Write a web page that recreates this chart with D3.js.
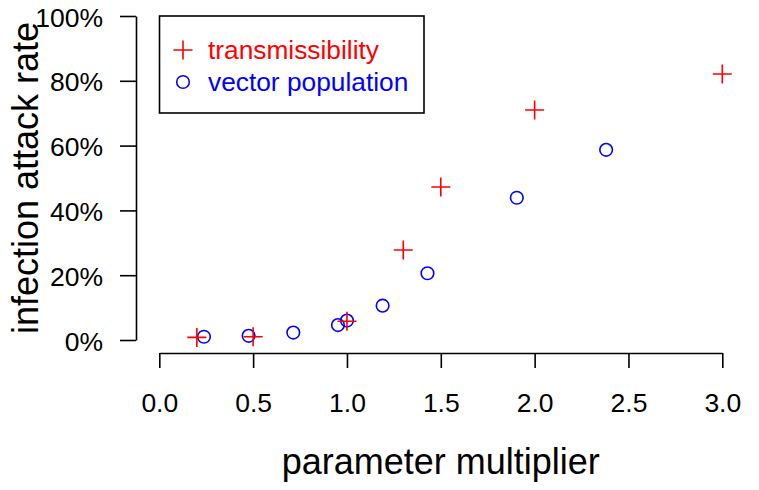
<!DOCTYPE html>
<html>
<head>
<meta charset="utf-8">
<script src="https://cdn.jsdelivr.net/npm/d3@7"></script>
<style>
  html, body { margin: 0; padding: 0; background: #fff; }
  svg { display: block; font-family: "Liberation Sans", Arial, Helvetica, sans-serif; }
</style>
</head>
<body>
<svg id="chart" width="759" height="490"></svg>
<script>
// ---- data ----
const transX = [0.2, 0.5, 1.0, 1.3, 1.5, 2.0, 3.0];
const transY = [0.008, 0.010, 0.058, 0.278, 0.472, 0.710, 0.821];
const vectorX = [0.238, 0.476, 0.714, 0.952, 1.0, 1.190, 1.429, 1.905, 2.381];
const vectorY = [0.010, 0.013, 0.023, 0.046, 0.060, 0.106, 0.206, 0.439, 0.587];
const xTicks = [0, 0.5, 1.0, 1.5, 2.0, 2.5, 3.0];
const yTicks = [0, 0.2, 0.4, 0.6, 0.8, 1.0];
const legendLabels = ["transmissibility", "vector population"];
const xTitle = "parameter multiplier";
const yTitle = "infection attack rate";

const svg = d3.select("#chart");
const x = d3.scaleLinear().domain([0, 3]).range([159.3, 722.3]);
const y = d3.scaleLinear().domain([0, 1]).range([340, 16]);

// x axis
const xAxis = svg.append("g")
  .attr("transform", "translate(0,353)")
  .call(d3.axisBottom(x).tickValues(xTicks).tickFormat(d3.format(".1f"))
    .tickSize(15).tickSizeOuter(0).tickPadding(25));
xAxis.selectAll("text").attr("font-size", 26.5).attr("fill", "#000").attr("font-family", null);
xAxis.selectAll("line, path").attr("stroke", "#000").attr("stroke-width", 1.6);

// y axis
const yAxis = svg.append("g")
  .attr("transform", "translate(136,0)")
  .call(d3.axisLeft(y).tickValues(yTicks).tickFormat(d3.format(".0%"))
    .tickSize(16).tickSizeOuter(0).tickPadding(17));
yAxis.selectAll("text").attr("font-size", 26.5).attr("fill", "#000").attr("font-family", null).attr("dy", "0.38em");
yAxis.selectAll("line, path").attr("stroke", "#000").attr("stroke-width", 1.6);

// titles
svg.append("text")
  .attr("x", (x(0) + x(3)) / 2).attr("y", 474)
  .attr("text-anchor", "middle").attr("font-size", 36).attr("fill", "#000")
  .text(xTitle);
svg.append("text")
  .attr("transform", `translate(38,${(y(0) + y(1)) / 2}) rotate(-90)`)
  .attr("text-anchor", "middle").attr("font-size", 36).attr("fill", "#000")
  .text(yTitle);

// points
const transData = transX.map((d, i) => [d, transY[i]]);
const vecData = vectorX.map((d, i) => [d, vectorY[i]]);
const plusPath = "M-9.5,0H9.5M0,-9.5V9.5";

svg.append("g").selectAll("circle").data(vecData).join("circle")
  .attr("cx", d => x(d[0])).attr("cy", d => y(d[1])).attr("r", 6.3)
  .attr("fill", "none").attr("stroke", "#0000FF").attr("stroke-width", 1.6);

svg.append("g").selectAll("path").data(transData).join("path")
  .attr("transform", d => `translate(${x(d[0])},${y(d[1])})`)
  .attr("d", plusPath).attr("fill", "none").attr("stroke", "#FF0000").attr("stroke-width", 1.6);

// legend
const lg = svg.append("g");
lg.append("rect").attr("x", 159.5).attr("y", 16).attr("width", 264.5).attr("height", 97)
  .attr("fill", "#fff").attr("stroke", "#000").attr("stroke-width", 1.6);
lg.append("path").attr("transform", "translate(183,50)").attr("d", plusPath)
  .attr("fill", "none").attr("stroke", "#FF0000").attr("stroke-width", 1.6);
lg.append("circle").attr("cx", 183).attr("cy", 82).attr("r", 6.3)
  .attr("fill", "none").attr("stroke", "#0000FF").attr("stroke-width", 1.6);
lg.append("text").attr("x", 208).attr("y", 50).attr("dy", "0.35em")
  .attr("font-size", 26.3).attr("fill", "#FF0000").text(legendLabels[0]);
lg.append("text").attr("x", 208).attr("y", 82).attr("dy", "0.35em")
  .attr("font-size", 26.3).attr("fill", "#0000FF").text(legendLabels[1]);
</script>
</body>
</html>
